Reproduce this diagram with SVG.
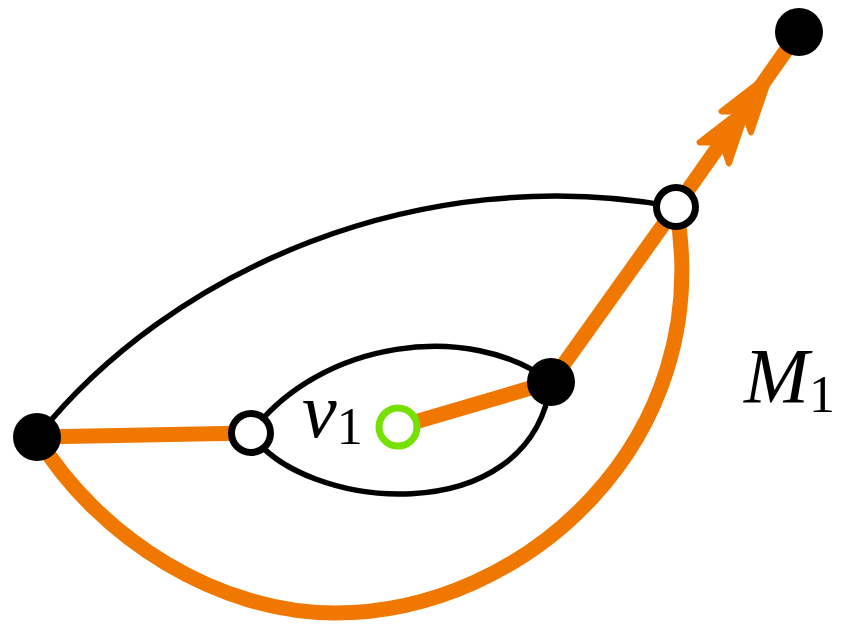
<svg xmlns="http://www.w3.org/2000/svg" width="843" height="626" viewBox="0 0 843 626">
<style>
.blk{fill:none;stroke:#000;stroke-width:5.5}
.org{fill:none;stroke:#f07800;stroke-width:15}
.arr{fill:#f07800;stroke:#f07800;stroke-width:6;stroke-linejoin:round}
.full{fill:#000}
.open{fill:#fff;stroke:#000;stroke-width:7}
.grn{fill:#fff;stroke:#76e000;stroke-width:7}
.lbl{font-family:"Liberation Serif","DejaVu Serif",serif;font-style:italic;font-size:78px;fill:#000}
.sub{font-family:"Liberation Serif","DejaVu Serif",serif;font-size:52px;fill:#000}
</style>
<defs>
<path id="ah" d="M0,0 L-60,-18 L-47,0 L-60,18 Z"/>
</defs>
<g id="connectors">
<path class="blk" d="M37,437 C170,270 420,160 676,207"/>
<path class="blk" d="M251,433 C320,340 470,320 551,382"/>
<path class="blk" d="M251,433 C300,510 530,535 551,382"/>
<path class="org" d="M37,437 C100,540 220,613 335,613 C525,613 718,440 676,207"/>
<path class="org" d="M37,437 L251,433"/>
<path class="org" d="M398,427 L551,382"/>
<path class="org" d="M551,382 L676,207"/>
<path class="org" d="M676,207 L799,32"/>
<use href="#ah" class="arr" transform="translate(771,73) rotate(-54.6)"/>
<use href="#ah" class="arr" transform="translate(749,104) rotate(-54.6)"/>
</g>
<g id="n-top"><circle class="full" cx="799" cy="32" r="24"/></g>
<g id="n-A"><circle class="open" cx="676" cy="207" r="19.5"/></g>
<g id="n-B"><circle class="full" cx="551" cy="382" r="24"/></g>
<g id="n-v1"><circle class="grn" cx="398" cy="427" r="19"/></g>
<g id="n-C"><circle class="open" cx="251" cy="433" r="19.5"/></g>
<g id="n-D"><circle class="full" cx="37" cy="437" r="24"/></g>
<g id="labels">
<text x="302" y="437"><tspan class="lbl">v</tspan><tspan class="sub" dy="7">1</tspan></text>
<text x="744" y="402"><tspan class="lbl">M</tspan><tspan class="sub" dy="10">1</tspan></text>
</g>
</svg>
